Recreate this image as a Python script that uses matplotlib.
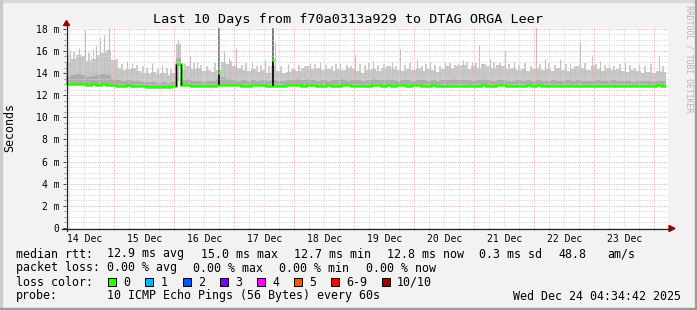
import numpy as np
import matplotlib
matplotlib.use('Agg')
import matplotlib.pyplot as plt
from matplotlib.patches import Rectangle, Polygon
from matplotlib.lines import Line2D

plt.rcParams['font.family'] = ['DejaVu Sans Mono', 'DejaVu Sans']

# ---------------- data ----------------
title = "Last 10 Days from f70a0313a929 to DTAG ORGA Leer"
day_labels = ["14 Dec", "15 Dec", "16 Dec", "17 Dec", "18 Dec",
              "19 Dec", "20 Dec", "21 Dec", "22 Dec", "23 Dec"]
day_label_pos = [0.5, 1.5, 2.5, 3.5, 4.5, 5.5, 6.5, 7.5, 8.5, 9.5]  # days since 14 Dec 00:00
y_tick_vals = [0, 2, 4, 6, 8, 10, 12, 14, 16, 18]
y_tick_labels = ["0", "2 m", "4 m", "6 m", "8 m", "10 m", "12 m", "14 m", "16 m", "18 m"]
t_start = 0.19          # 14 Dec 04:34
bin_days = 1.0 / 12.0   # 2 hour bins

smoke_top = [15.0, 15.3, 15.6, 15.5, 15.1, 15.3, 15.6, 15.8, 16.1, 15.2,
             14.5, 14.3, 14.4, 14.5, 14.2, 14.0, 13.9, 14.1, 13.9, 14.0,
             13.8, 14.0, 16.6, 14.3, 14.6, 14.4, 14.5, 14.2, 14.3, 14.1,
             14.3, 15.0, 14.8, 14.6, 14.5, 14.3, 14.2, 14.4, 14.1, 14.3,
             14.0, 14.6, 14.2, 14.0, 14.1, 14.3, 14.2, 14.5, 14.6, 14.4,
             14.5, 14.3, 14.4, 14.2, 14.4, 14.3, 14.5, 14.4, 14.2, 14.0,
             14.3, 14.4, 14.2, 14.5, 14.6, 14.4, 14.3, 14.2, 14.4, 14.3,
             14.5, 14.2, 14.4, 14.3, 14.1, 14.4, 14.6, 14.5, 14.6, 14.7,
             14.4, 14.6, 14.5, 14.8, 14.6, 14.5, 14.7, 14.6, 14.4, 14.5,
             14.3, 14.4, 14.2, 14.4, 14.5, 14.3, 14.4, 14.2, 14.5, 14.3,
             14.2, 14.4, 14.6, 14.5, 14.3, 14.6, 14.4, 14.2, 14.5, 14.3,
             14.4, 14.2, 14.1, 14.3, 14.2, 14.0, 14.1, 14.0, 14.2, 14.1]

smoke_mid = [13.7, 13.8, 13.9, 13.8, 13.6, 13.7, 13.8, 13.9, 13.8, 13.5,
             13.4, 13.3, 13.4, 13.3, 13.3, 13.2, 13.2, 13.2, 13.1, 13.2,
             13.1, 13.2, 15.4, 13.4, 13.5, 13.3, 13.3, 13.2, 13.3, 13.3,
             13.5, 13.6, 13.5, 13.4, 13.3, 13.4, 13.3, 13.4, 13.3, 13.4,
             13.3, 13.4, 13.3, 13.3, 13.4, 13.4, 13.5, 13.4, 13.5, 13.4,
             13.3, 13.4, 13.3, 13.4, 13.4, 13.5, 13.3, 13.4, 13.4, 13.3,
             13.4, 13.5, 13.4, 13.4, 13.5, 13.4, 13.3, 13.4, 13.4, 13.3,
             13.4, 13.4, 13.3, 13.4, 13.3, 13.4, 13.4, 13.5, 13.4, 13.4,
             13.4, 13.3, 13.4, 13.5, 13.4, 13.3, 13.4, 13.4, 13.3, 13.3,
             13.4, 13.3, 13.4, 13.3, 13.4, 13.3, 13.3, 13.4, 13.3, 13.3,
             13.4, 13.3, 13.4, 13.3, 13.3, 13.3, 13.4, 13.3, 13.3, 13.4,
             13.3, 13.3, 13.3, 13.2, 13.3, 13.3, 13.3, 13.2, 13.3, 13.3]

median = [13.0, 13.0, 13.05, 13.0, 12.95, 13.0, 12.95, 13.0, 12.95, 12.9,
          12.85, 12.85, 12.9, 12.85, 12.85, 12.8, 12.75, 12.75, 12.75, 12.75,
          12.75, 12.8, 14.8, 12.9, 12.9, 12.85, 12.8, 12.8, 12.8, 12.85,
          12.9, 12.95, 12.9, 12.9, 12.9, 12.85, 12.85, 12.9, 12.9, 12.9,
          12.85, 12.85, 12.85, 12.85, 12.9, 12.9, 12.9, 12.85, 12.9, 12.9,
          12.85, 12.85, 12.9, 12.85, 12.85, 12.9, 12.9, 12.85, 12.85, 12.85,
          12.85, 12.9, 12.9, 12.85, 12.9, 12.85, 12.9, 12.9, 12.85, 12.9,
          12.9, 12.85, 12.85, 12.9, 12.85, 12.85, 12.8, 12.8, 12.8, 12.85,
          12.85, 12.8, 12.8, 12.9, 12.85, 12.85, 12.9, 12.9, 12.85, 12.85,
          12.85, 12.85, 12.9, 12.85, 12.9, 12.85, 12.8, 12.8, 12.8, 12.85,
          12.85, 12.8, 12.85, 12.85, 12.85, 12.8, 12.8, 12.85, 12.85, 12.85,
          12.8, 12.8, 12.8, 12.85, 12.85, 12.8, 12.85, 12.85, 12.9, 12.85]

# tall individual spikes of the smoke
spike_t = [0.262, 0.412, 0.512, 0.645, 0.695, 0.762, 0.828, 0.912, 1.212, 1.295,
           1.628, 1.795, 2.062, 2.262, 2.378, 2.828, 2.912, 3.028, 3.295, 3.512,
           3.678, 3.895, 4.262, 4.428, 4.762, 5.012, 5.312, 5.628, 5.762, 6.045,
           6.262, 6.512, 6.812, 6.962, 7.078, 7.262, 7.512, 7.662, 8.028, 8.178,
           8.428, 8.595, 8.762, 8.962, 9.095, 9.245, 9.512, 9.745, 10.078]
spike_v = [16.0, 16.3, 17.9, 16.2, 16.5, 17.2, 17.4, 18.1, 15.1, 14.9,
           14.9, 14.7, 17.0, 15.5, 15.0, 16.0, 15.4, 16.3, 15.0, 15.2,
           16.8, 14.8, 14.9, 15.0, 14.9, 15.6, 15.1, 15.0, 16.2, 15.3,
           15.0, 15.0, 15.2, 15.0, 16.5, 15.3, 16.0, 15.0, 18.1, 15.3,
           15.3, 14.9, 16.8, 15.6, 15.1, 14.8, 15.0, 14.8, 15.6]
# smaller spikes giving the ragged top edge
small_t = [0.23, 0.33, 0.45, 0.58, 0.88, 1.05, 1.12, 1.38, 1.47, 1.55,
           1.72, 1.88, 1.95, 2.18, 2.33, 2.45, 2.55, 2.68, 2.95, 3.12,
           3.20, 3.38, 3.45, 3.58, 3.78, 3.98, 4.08, 4.17, 4.35, 4.52,
           4.62, 4.70, 4.88, 4.95, 5.10, 5.18, 5.25, 5.40, 5.50, 5.70,
           5.85, 5.93, 6.12, 6.20, 6.35, 6.43, 6.60, 6.68, 6.75, 6.88,
           7.02, 7.15, 7.33, 7.42, 7.58, 7.75, 7.85, 7.95, 8.10, 8.25,
           8.35, 8.52, 8.68, 8.85, 9.02, 9.17, 9.33, 9.42, 9.60, 9.68,
           9.85, 9.95, 10.15]
small_v = [15.6, 15.9, 15.4, 15.8, 15.9, 15.3, 14.8, 14.7, 14.6, 14.5,
           14.4, 14.5, 14.4, 14.8, 14.9, 14.7, 14.6, 14.9, 15.1, 14.7,
           14.9, 14.6, 14.7, 14.6, 14.6, 14.5, 14.7, 14.6, 14.8, 14.7,
           14.6, 14.8, 14.7, 14.6, 14.8, 14.7, 14.9, 14.7, 14.8, 14.6,
           14.7, 14.9, 14.6, 14.8, 14.7, 14.6, 14.9, 14.7, 14.8, 15.0,
           14.9, 14.8, 15.0, 14.9, 14.8, 14.7, 14.9, 14.6, 14.8, 14.9,
           14.7, 14.8, 14.6, 14.9, 14.8, 14.7, 14.6, 14.8, 14.7, 14.5,
           14.6, 14.8, 14.6]

dark_spike_t = [2.745, 3.645]
dark_spike_v = [18.1, 18.1]
med_spike_t = [2.745, 3.645]
med_spike_lo = [12.9, 12.8]
med_spike_hi = [14.0, 15.2]

loss_labels = ["0", "1", "2", "3", "4", "5", "6-9", "10/10"]
loss_colors = ["#26ff00", "#00b8ff", "#0059ff", "#7e00ff", "#ff00ff",
               "#ff5500", "#ff0000", "#a10000"]
rtt_stats = ["12.9 ms avg", "15.0 ms max", "12.7 ms min", "12.8 ms now",
             "0.3 ms sd", "48.8", "am/s"]
loss_stats = ["0.00 % avg", "0.00 % max", "0.00 % min", "0.00 % now"]
probe_text = "10 ICMP Echo Pings (56 Bytes) every 60s"
stamp = "Wed Dec 24 04:34:42 2025"

# ---------------- layout helpers ----------------
W, H = 697, 310
def fx(px):
    return px / W
def fy(py):
    return 1 - py / H

fig = plt.figure(figsize=(W / 100, H / 100), dpi=100)
fig.patch.set_facecolor('#f2f2f2')

ax = fig.add_axes([fx(66), fy(228), (668 - 66) / W, 200 / H])
ax.set_facecolor('white')
ax.set_xlim(0.195, 10.228)
ax.set_ylim(0, 18.07)
for s in ax.spines.values():
    s.set_visible(False)

# grid (dotted)
grid_minor = '#d4d4d4'
grid_major = '#f6a8a8'
gkw = dict(lw=0.72, ls=(0, (1, 1.4)))
for v in np.arange(0.5, 18.01, 0.5):
    if abs(v / 2 - round(v / 2)) > 1e-6:
        ax.axhline(v, color=grid_minor, zorder=2, **gkw)
for v in y_tick_vals[1:]:
    ax.axhline(v, color=grid_major, zorder=2.1, **gkw)
for d in np.arange(0.25, 10.3, 0.25):
    if abs(d - round(d)) > 1e-6:
        ax.axvline(d, color=grid_minor, zorder=2, **gkw)
for d in range(1, 11):
    ax.axvline(d, color=grid_major, zorder=2.1, **gkw)

# smoke
edges = t_start + np.arange(len(median) + 1) * bin_days
ax.stairs(smoke_top, edges, baseline=median, fill=True, color='#c8c8c8', zorder=1, lw=0)
ax.vlines(spike_t, 13.3, spike_v, color='#c0c0c0', lw=0.8, zorder=1.05)
ax.vlines(small_t, 13.3, small_v, color='#c4c4c4', lw=1.2, zorder=1.04)
ax.stairs(smoke_mid, edges, baseline=median, fill=True, color='#acacac', zorder=1.1, lw=0)
ax.vlines(dark_spike_t, 13.0, dark_spike_v, color='#555555', lw=1.1, zorder=1.2)

# median line
ax.stairs(median, edges, baseline=None, color='#26ff00', lw=1.8, zorder=4)
med = np.array(median)
for i in range(1, len(med)):
    if abs(med[i] - med[i - 1]) > 0.5:
        ax.vlines(edges[i], min(med[i], med[i - 1]), max(med[i], med[i - 1]),
                  color='black', lw=1.0, zorder=5)
ax.vlines(med_spike_t, med_spike_lo, med_spike_hi, color='black', lw=1.1, zorder=5)
ax.scatter(med_spike_t, med_spike_hi, s=4, color='#26ff00', zorder=6, linewidths=0)

# ticks
ax.set_yticks(y_tick_vals)
ax.set_yticklabels(y_tick_labels)
ax.set_yticks(np.arange(0, 18.01, 0.5), minor=True)
ax.tick_params(axis='y', which='major', length=2.5, width=0.72, color='#444444',
               pad=2.2, labelsize=7)
ax.tick_params(axis='y', which='minor', length=1.5, width=0.72, color='#888888')
ax.set_xticks(day_label_pos)
ax.set_xticklabels(day_labels)
ax.set_xticks(np.arange(0.25, 10.23, 0.25), minor=True)
ax.tick_params(axis='x', which='major', length=0, pad=4.5, labelsize=7)
ax.tick_params(axis='x', which='minor', length=1.5, width=0.72, color='#999999')

# axes lines and arrows
fig.add_artist(Line2D([fx(66.5), fx(66.5)], [fy(231), fy(24)], color='#222222', lw=0.9))
fig.add_artist(Line2D([fx(62), fx(670)], [fy(228.5), fy(228.5)], color='#222222', lw=0.9))
fig.add_artist(Polygon([[fx(63.5), fy(25.5)], [fx(69.5), fy(25.5)], [fx(66.5), fy(20.5)]],
                       closed=True, color='#a00000', transform=fig.transFigure))
fig.add_artist(Polygon([[fx(669), fy(225.5)], [fx(669), fy(231.5)], [fx(675), fy(228.5)]],
                       closed=True, color='#a00000', transform=fig.transFigure))

# texts
fig.text(fx(348), fy(19), title, ha='center', va='center', fontsize=9.7)
fig.text(fx(10), fy(128), 'Seconds', rotation=90, ha='center', va='center', fontsize=8.4)
fig.text(fx(689), fy(59), 'RRDTOOL / TOBI OETIKER', rotation=270, ha='center',
         va='center', fontsize=5.9, color='#b4b4b4')

fs = 8.4
row_y = [254, 268, 282, 296]
fig.text(fx(16), fy(row_y[0]), 'median rtt:', ha='left', va='center', fontsize=fs)
for xs, s in zip([107.3, 200.7, 294, 386.7, 479.3, 558, 607], rtt_stats):
    fig.text(fx(xs), fy(row_y[0]), s, ha='left', va='center', fontsize=fs)
fig.text(fx(16), fy(row_y[1]), 'packet loss:', ha='left', va='center', fontsize=fs)
for xs, s in zip([107.3, 193.3, 279.3, 365.7], loss_stats):
    fig.text(fx(xs), fy(row_y[1]), s, ha='left', va='center', fontsize=fs)
fig.text(fx(16), fy(row_y[2]), 'loss color:', ha='left', va='center', fontsize=fs)
box_x = [108, 145, 182.7, 219.7, 256.7, 293.7, 331, 381.7]
for bx, lab, col in zip(box_x, loss_labels, loss_colors):
    fig.add_artist(Rectangle((fx(bx), fy(286)), 8 / W, 8 / H, facecolor=col,
                             edgecolor='black', lw=0.72, transform=fig.transFigure))
    fig.text(fx(bx + 15.3), fy(row_y[2]), lab, ha='left', va='center', fontsize=fs)
fig.text(fx(16), fy(row_y[3]), 'probe:', ha='left', va='center', fontsize=fs)
fig.text(fx(107.3), fy(row_y[3]), probe_text, ha='left', va='center', fontsize=fs)
fig.text(fx(681), fy(row_y[3]), stamp, ha='right', va='center', fontsize=fs)

# frame
fig.add_artist(Rectangle((0, 1 - 2 / H), 1, 2 / H, color='#dadada', transform=fig.transFigure))
fig.add_artist(Rectangle((0, 0), 2 / W, 1, color='#cacaca', transform=fig.transFigure))
fig.add_artist(Rectangle((0, 0), 1, 2 / H, color='#9c9c9c', transform=fig.transFigure))
fig.add_artist(Rectangle((1 - 2 / W, 0), 2 / W, 1, color='#9c9c9c', transform=fig.transFigure))

fig.savefig('out.png', dpi=100, facecolor=fig.get_facecolor())
